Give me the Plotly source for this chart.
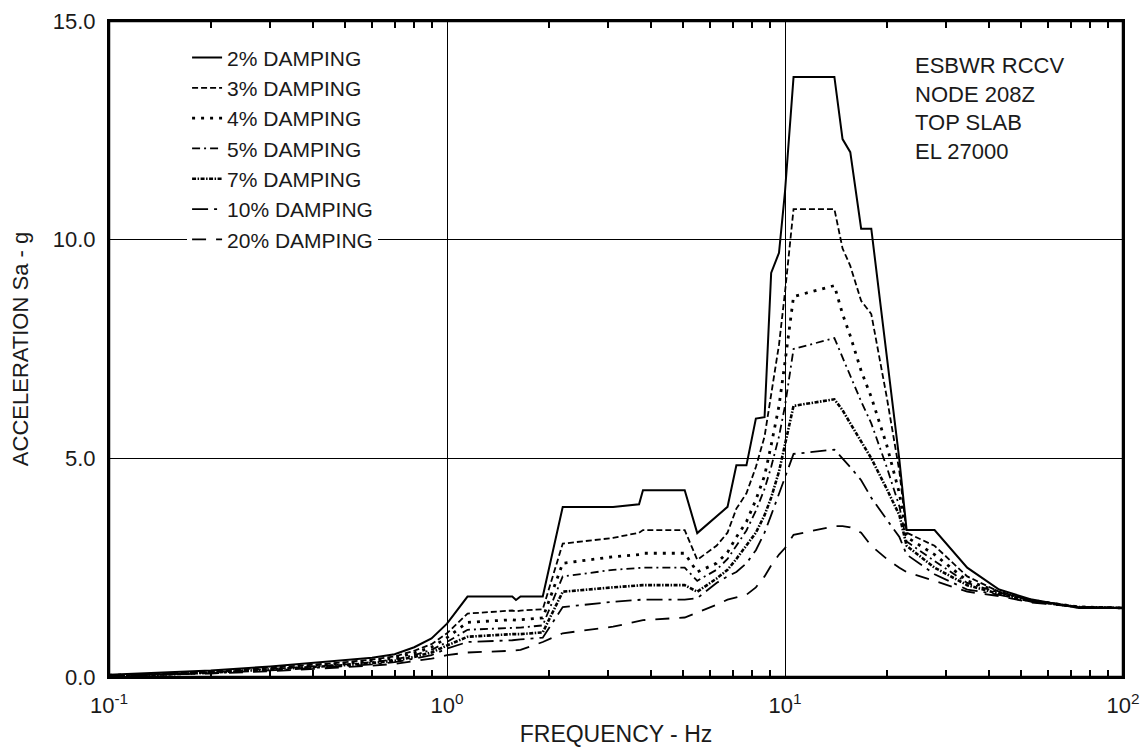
import plotly.graph_objects as go

# ---------------- data ----------------
freq = [0.1, 0.15, 0.2, 0.3, 0.4, 0.5, 0.6, 0.7, 0.8, 0.9, 1.0, 1.15, 1.56, 1.6, 1.65,
        1.92, 2.2, 3.1, 3.7, 3.8, 5.05, 5.5, 6.27, 6.76, 7.18, 7.69, 8.2, 8.7, 9.1, 9.6,
        10.0, 10.6, 14.0, 14.8, 15.6, 16.8, 18.0, 20.0, 21.8, 22.9, 27.7, 34.6, 43.0,
        53.8, 74.0, 100.0]

sa_2 = [0.05, 0.10, 0.15, 0.24, 0.32, 0.38, 0.44, 0.52, 0.68, 0.88, 1.22, 1.84, 1.84, 1.76, 1.84,
        1.84, 3.89, 3.89, 3.95, 4.27, 4.27, 3.29, 3.66, 3.89, 4.84, 4.84, 5.91, 5.94, 9.24, 9.70,
        11.1, 13.72, 13.72, 12.3, 12.0, 10.25, 10.25, 7.34, 4.96, 3.36, 3.36, 2.50, 2.00,
        1.77, 1.58, 1.58]
sa_3 = [0.04, 0.08, 0.13, 0.21, 0.28, 0.34, 0.40, 0.47, 0.60, 0.75, 1.00, 1.45, 1.52, 1.50, 1.52,
        1.55, 3.05, 3.18, 3.30, 3.36, 3.36, 2.68, 3.00, 3.30, 3.85, 4.20, 4.80, 5.50, 6.50, 7.60,
        8.80, 10.70, 10.70, 9.80, 9.40, 8.60, 8.30, 6.40, 4.70, 3.30, 3.00, 2.30, 1.95,
        1.75, 1.60, 1.58]
sa_4 = [0.04, 0.07, 0.12, 0.19, 0.26, 0.31, 0.37, 0.43, 0.55, 0.68, 0.90, 1.25, 1.31, 1.30, 1.31,
        1.35, 2.60, 2.75, 2.80, 2.83, 2.83, 2.40, 2.60, 2.85, 3.20, 3.55, 4.05, 4.60, 5.30, 6.20,
        7.20, 8.70, 8.95, 8.30, 7.80, 7.00, 6.40, 5.30, 4.20, 3.20, 2.80, 2.20, 1.95,
        1.75, 1.60, 1.58]
sa_5 = [0.035, 0.065, 0.11, 0.18, 0.24, 0.29, 0.34, 0.40, 0.50, 0.62, 0.80, 1.08, 1.13, 1.12, 1.13,
        1.18, 2.30, 2.45, 2.48, 2.50, 2.50, 2.20, 2.45, 2.70, 3.00, 3.35, 3.80, 4.30, 4.80, 5.50,
        6.20, 7.50, 7.75, 7.30, 6.90, 6.30, 5.80, 4.80, 3.90, 3.10, 2.65, 2.15, 1.93,
        1.75, 1.60, 1.58]
sa_7 = [0.03, 0.06, 0.10, 0.17, 0.22, 0.27, 0.32, 0.37, 0.46, 0.56, 0.72, 0.92, 0.98, 0.98, 0.98,
        1.02, 1.95, 2.05, 2.10, 2.10, 2.10, 1.95, 2.25, 2.45, 2.70, 3.00, 3.30, 3.70, 4.10, 4.70,
        5.30, 6.20, 6.35, 6.10, 5.80, 5.40, 5.00, 4.30, 3.70, 3.00, 2.50, 2.10, 1.90,
        1.73, 1.60, 1.58]
sa_10 = [0.03, 0.055, 0.09, 0.15, 0.20, 0.25, 0.29, 0.34, 0.42, 0.50, 0.65, 0.80, 0.84, 0.85, 0.86,
         0.90, 1.60, 1.72, 1.75, 1.77, 1.77, 1.80, 2.15, 2.30, 2.40, 2.60, 2.90, 3.30, 3.70, 4.20,
         4.60, 5.10, 5.20, 5.00, 4.80, 4.50, 4.10, 3.60, 3.20, 2.80, 2.35, 2.00, 1.88,
         1.72, 1.60, 1.58]
sa_20 = [0.025, 0.05, 0.08, 0.13, 0.18, 0.22, 0.26, 0.30, 0.36, 0.42, 0.50, 0.56, 0.60, 0.61, 0.62,
         0.80, 1.00, 1.15, 1.28, 1.30, 1.36, 1.47, 1.65, 1.77, 1.82, 1.88, 2.05, 2.30, 2.55, 2.80,
         2.95, 3.25, 3.45, 3.45, 3.42, 3.30, 3.00, 2.70, 2.50, 2.40, 2.20, 1.95, 1.85,
         1.70, 1.60, 1.58]

series_names = ["2% DAMPING", "3% DAMPING", "4% DAMPING", "5% DAMPING",
                "7% DAMPING", "10% DAMPING", "20% DAMPING"]
series_values = [sa_2, sa_3, sa_4, sa_5, sa_7, sa_10, sa_20]

x_tick_vals = [0.1, 1, 10, 100]
x_tick_text = ["10<sup>-1</sup>", "10<sup>0</sup>", "10<sup>1</sup>", "10<sup>2</sup>"]
y_tick_vals = [0, 5, 10, 15]
y_tick_text = ["0.0", "5.0", "10.0", "15.0"]
x_minor_vals = [m * 10 ** e for e in (-1, 0, 1) for m in range(2, 10)]

note_lines = ["ESBWR RCCV", "NODE 208Z", "TOP SLAB", "EL 27000"]

# ---------------- styles ----------------
styles = [
    dict(dash="solid", width=2.0),
    dict(dash="6px,3px", width=1.8),
    dict(dash="3px,6px", width=2.8),
    dict(dash="8px,4px,2px,4px", width=1.8),
    dict(dash="4px,1.5px,1.5px,1.5px", width=2.6),
    dict(dash="16px,6px,3px,6px", width=1.8),
    dict(dash="14px,10px", width=1.8),
]

FONT = "Liberation Sans, Arial, Helvetica, sans-serif"
INK = "#1a1a1a"

fig = go.Figure()
for name, vals, st in zip(series_names, series_values, styles):
    fig.add_trace(go.Scatter(
        x=freq, y=vals, mode="lines", name=name,
        line=dict(color="black", width=st["width"], dash=st["dash"]),
    ))

# invisible companion trace so the top frequency axis (with its minor ticks) is drawn
fig.add_trace(go.Scatter(
    x=freq, y=sa_2, xaxis="x2", mode="lines", showlegend=False,
    hoverinfo="skip", line=dict(width=0, color="rgba(0,0,0,0)"),
))

minor_ticks = dict(tickmode="array", tickvals=x_minor_vals, ticks="inside",
                   ticklen=7, tickwidth=1.5, tickcolor="black", showgrid=False)

fig.update_layout(
    width=1148, height=755,
    margin=dict(l=109, r=25, t=21, b=78),
    paper_bgcolor="white", plot_bgcolor="white",
    font=dict(family=FONT, size=22, color=INK),
    showlegend=True,
    legend=dict(
        x=0.077, y=0.975, xanchor="left", yanchor="top",
        bgcolor="white", borderwidth=0,
        font=dict(family=FONT, size=21, color=INK),
        tracegroupgap=0,
    ),
    annotations=[dict(
        xref="paper", yref="paper", x=0.793, y=0.954,
        xanchor="left", yanchor="top", align="left", showarrow=False,
        text="<br>".join(note_lines),
        font=dict(family=FONT, size=22, color=INK),
    )],
    shapes=[dict(type="rect", xref="paper", yref="paper",
                 x0=0, x1=1, y0=0, y1=1,
                 line=dict(color="black", width=2.5), fillcolor="rgba(0,0,0,0)",
                 layer="above")],
    xaxis2=dict(
        type="log", range=[-1, 2], overlaying="x", side="top", anchor="y",
        automargin=False, showgrid=False, showline=True, linecolor="black",
        linewidth=2, zeroline=False,
        showticklabels=False, ticks="", tickmode="array", tickvals=x_tick_vals,
        minor=minor_ticks,
    ),
)

fig.layout.xaxis.update(
    type="log", range=[-1, 2], automargin=False,
    tickmode="array", tickvals=x_tick_vals, ticktext=x_tick_text,
    ticks="", showline=True, linecolor="black", linewidth=2, mirror=True,
    showgrid=True, gridcolor="black", gridwidth=1.4,
    zeroline=False, ticklabelstandoff=8, ticklabeloverflow="allow",
    tickfont=dict(family=FONT, size=22, color=INK),
    minor=minor_ticks,
    title=dict(text="FREQUENCY - Hz", standoff=8,
               font=dict(family=FONT, size=23, color=INK)),
)
fig.layout.yaxis.update(
    range=[0, 15], automargin=False,
    tickmode="array", tickvals=y_tick_vals, ticktext=y_tick_text,
    ticks="", showline=True, linecolor="black", linewidth=2, mirror=True,
    showgrid=True, gridcolor="black", gridwidth=1.4,
    zeroline=False, ticklabelstandoff=7, ticklabeloverflow="allow",
    tickfont=dict(family=FONT, size=22, color=INK),
    title=dict(text="ACCELERATION Sa - g", standoff=18,
               font=dict(family=FONT, size=22, color=INK)),
)

# remove the browser's default 8px page margin so the figure sits at the window origin
fig.write_html(
    "out.html",
    config={"displayModeBar": False},
    post_script="document.body.style.margin='0';document.body.style.overflow='hidden';",
)
